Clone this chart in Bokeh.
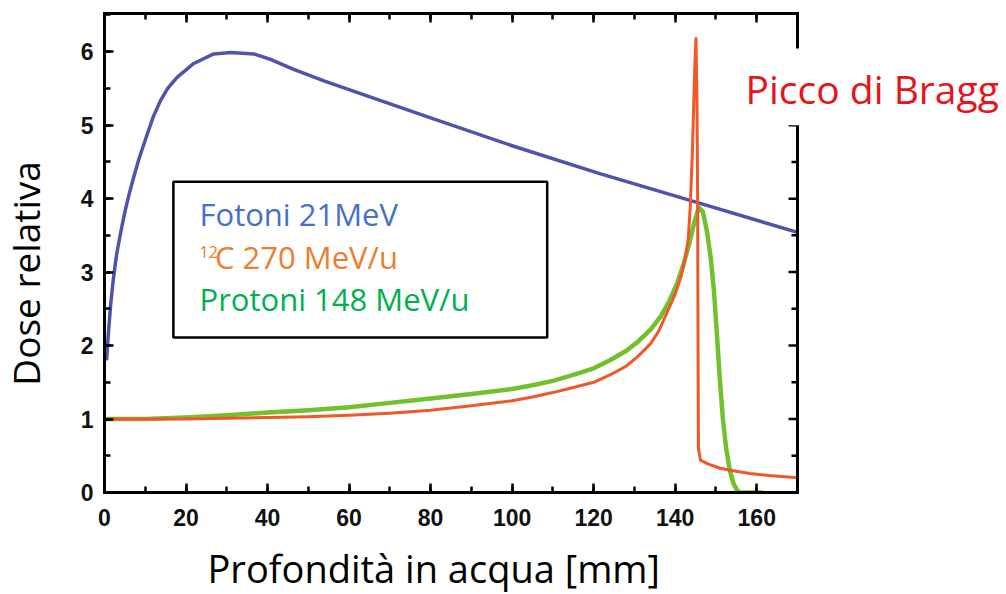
from bokeh.plotting import figure
from bokeh.layouts import row, column
from bokeh.models import (Range1d, LinearAxis, SingleIntervalTicker, Label, BoxAnnotation, Span)
from bokeh.embed import file_html
from bokeh.resources import INLINE
from math import pi

# ---- data ----
depth_photon = [0.5, 1.0, 1.5, 2.0, 2.5, 3.0, 4.0, 5.0, 6.0, 7.0, 8.5, 10.5, 12, 13.7, 15.5,
                17.8, 21.9, 26.8, 31, 36.6, 41, 46.4, 54, 62.8, 80, 100, 121.5, 145.3, 170]
dose_photon = [1.8, 2.2, 2.55, 2.82, 3.05, 3.25, 3.55, 3.82, 4.05, 4.26, 4.55, 4.88, 5.12, 5.33,
               5.5, 5.65, 5.84, 5.97, 5.99, 5.97, 5.89, 5.76, 5.6, 5.43, 5.1, 4.72, 4.34, 3.95,
               3.54]

depth_carbon = [0, 10, 20, 30, 40, 50, 60, 70, 80, 90, 100, 105, 110, 115, 120, 124, 128, 131,
                134, 136, 138, 140, 141.5, 142.5, 143.2, 143.7, 144.2, 144.6, 144.9, 145.1,
                145.35, 145.5, 145.6, 145.7, 146.2, 148, 151, 155, 158.3, 163, 170]
dose_carbon = [1.0, 1.0, 1.0, 1.01, 1.02, 1.03, 1.05, 1.08, 1.12, 1.18, 1.25, 1.3, 1.36, 1.43,
               1.5, 1.6, 1.72, 1.86, 2.03, 2.2, 2.45, 2.7, 2.95, 3.2, 3.45, 3.9, 4.6, 5.4,
               5.95, 6.18, 5.3, 4.0, 2.0, 0.6, 0.44, 0.39, 0.33, 0.29, 0.26, 0.23, 0.2]

depth_proton = [0, 10, 20, 30, 40, 50, 60, 70, 80, 90, 100, 105, 110, 115, 120, 124, 128, 131,
                134, 136.5, 138.5, 140.5, 142, 143.5, 144.7, 145.8, 146.8, 147.8, 148.7, 149.5,
                150.3, 151, 151.7, 152.5, 153.4, 154.3, 155.2, 156, 161.5]
dose_proton = [1.0, 1.0, 1.02, 1.05, 1.09, 1.12, 1.16, 1.22, 1.28, 1.34, 1.41, 1.46, 1.52, 1.6,
               1.69, 1.8, 1.93, 2.06, 2.22, 2.4, 2.6, 2.85, 3.1, 3.4, 3.68, 3.88, 3.82, 3.55,
               3.2, 2.75, 2.1, 1.5, 1.0, 0.6, 0.3, 0.12, 0.03, 0.0, 0.0]

x_max = 170
y_max = 6.52
right_major_ticks = [0, 1, 2, 3, 4, 5, 6]
right_minor_ticks = [0.5, 1.5, 2.5, 3.5, 4.5, 5.5]

x_title = "Profondità in acqua [mm]"
y_title = "Dose relativa"
legend_texts = ["Fotoni 21MeV", "C 270 MeV/u", "Protoni 148 MeV/u"]
annotation_text = "Picco di Bragg"

# ---- layout geometry (pixels) ----
W, H = 1006, 594
YT_W = 60          # strip holding the y title
MAIN_H = 540       # main figure height
XT_H = H - MAIN_H  # strip holding the x title
FRAME_L, FRAME_R, FRAME_T, FRAME_B = 104, 1006, 13, 492
DATA_R = 797       # where x = 170 mm falls

px_per_mm = (DATA_R - FRAME_L) / x_max
x_end = (FRAME_R - FRAME_L) / px_per_mm

p = figure(width=W - YT_W, height=MAIN_H, x_range=Range1d(0, x_end), y_range=Range1d(0, y_max),
           output_backend="svg", toolbar_location=None,
           min_border_left=FRAME_L - YT_W, min_border_right=0, min_border_top=FRAME_T,
           min_border_bottom=MAIN_H - FRAME_B)
p.background_fill_color = "white"
p.border_fill_color = "white"
p.outline_line_color = None
p.xgrid.visible = False
p.ygrid.visible = False

bottom = p.below[0]
left = p.left[0]
xt = SingleIntervalTicker(interval=20, num_minor_ticks=2)
yt = SingleIntervalTicker(interval=1, num_minor_ticks=2)
bottom.ticker = xt
left.ticker = yt
bottom.bounds = (0, x_max)
top = LinearAxis(ticker=xt, bounds=(0, x_max))
p.add_layout(top, "above")

for ax in [bottom, left, top]:
    ax.axis_line_width = 3
    ax.axis_line_color = "black"
    ax.axis_line_cap = "square"
    ax.major_tick_in = 9
    ax.major_tick_out = 0
    ax.minor_tick_in = 6
    ax.minor_tick_out = 0
    ax.major_tick_line_width = 2.5
    ax.minor_tick_line_width = 2.5
    ax.major_tick_line_color = "black"
    ax.minor_tick_line_color = "black"
    ax.major_label_text_font = "Liberation Sans"
    ax.major_label_text_font_style = "bold"
    ax.major_label_text_font_size = "23px"
    ax.major_label_text_color = "#111111"

# the top edge carries ticks only, no labels
top.major_label_text_font_size = "0px"
top.major_label_text_color = None
top.major_label_standoff = 0
bottom.major_label_standoff = 16
left.major_label_standoff = 11

# right frame edge with inward ticks
p.add_layout(Span(location=x_max, dimension="height", line_color="black", line_width=3))
p.ray(x=[x_max] * len(right_major_ticks), y=right_major_ticks, length=9, angle=pi,
      length_units="screen", line_color="black", line_width=2.5)
p.ray(x=[x_max] * len(right_minor_ticks), y=right_minor_ticks, length=6, angle=pi,
      length_units="screen", line_color="black", line_width=2.5)

p.line(depth_photon, dose_photon, line_color="#5252AE", line_width=3.5, line_join="round")
p.line(depth_proton, dose_proton, line_color="#72C02C", line_width=4.5, line_join="round")
p.line(depth_carbon, dose_carbon, line_color="#F0582A", line_width=3, line_join="round")

# legend box
box = BoxAnnotation(left=16.9, right=108.6, top=4.23, bottom=2.11,
                    fill_color="white", fill_alpha=1.0, line_color="black", line_alpha=1.0,
                    line_width=2.5)
p.add_layout(box)

leg_font = "Open Sans"
p.add_layout(Label(x=23.3, y=3.797, text=legend_texts[0], text_color="#4472C4",
                   text_font=leg_font, text_font_size="31px", text_baseline="alphabetic"))
p.add_layout(Label(x=23.3, y=3.28, text="12", text_color="#ED7D31",
                   text_font=leg_font, text_font_size="16px", text_baseline="alphabetic"))
p.add_layout(Label(x=27.1, y=3.212, text=legend_texts[1], text_color="#ED7D31",
                   text_font=leg_font, text_font_size="31px", text_baseline="alphabetic"))
p.add_layout(Label(x=23.3, y=2.64, text=legend_texts[2], text_color="#00B050",
                   text_font=leg_font, text_font_size="31px", text_baseline="alphabetic"))

# white patch behind the Bragg label, interrupting the right frame edge
p.add_layout(BoxAnnotation(left=155.3, right=x_end, top=6.043, bottom=5.0,
                           fill_color="white", fill_alpha=1.0, line_color=None))
p.add_layout(Label(x=157.26, y=5.499, text=annotation_text, text_color="#E8141B",
                   text_font="Open Sans", text_font_size="39px", text_baseline="alphabetic"))

# ---- strip with the y title ----
ty = figure(width=YT_W, height=MAIN_H, x_range=Range1d(0, YT_W), y_range=Range1d(0, MAIN_H),
            output_backend="svg", toolbar_location=None, x_axis_location=None,
            y_axis_location=None, min_border=0)
ty.outline_line_color = None
ty.xgrid.visible = False
ty.ygrid.visible = False
ty.add_layout(Label(x=25, y=247, text=y_title, angle=pi / 2, text_color="black",
                    text_font="Open Sans", text_font_size="37px", text_align="center",
                    text_baseline="alphabetic"))

# ---- strip with the x title ----
tx = figure(width=W, height=XT_H, x_range=Range1d(0, W), y_range=Range1d(0, XT_H),
            output_backend="svg", toolbar_location=None, x_axis_location=None,
            y_axis_location=None, min_border=0)
tx.outline_line_color = None
tx.xgrid.visible = False
tx.ygrid.visible = False
tx.add_layout(Label(x=207, y=27, text=x_title, text_color="black",
                    text_font="Open Sans", text_font_size="38px", text_align="left",
                    text_baseline="alphabetic"))

layout = column(row(ty, p, spacing=0), tx, spacing=0)
open("out.html", "w").write(file_html(layout, INLINE))
